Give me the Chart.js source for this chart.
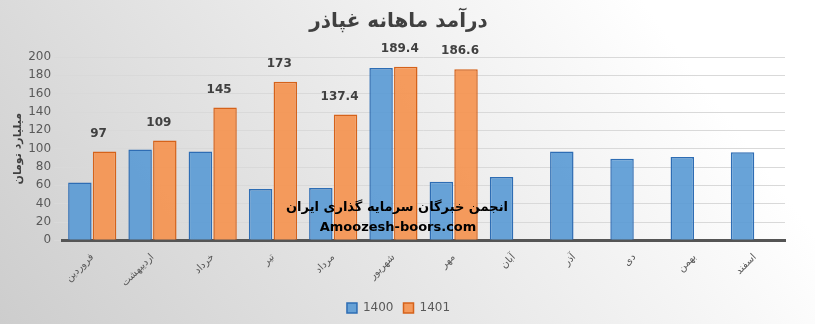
<!DOCTYPE html>
<html>
<head>
<meta charset="utf-8">
<script src="https://cdn.jsdelivr.net/npm/chart.js@4.4.0/dist/chart.umd.min.js"></script>
<style>
  body { margin: 0; }
  #wrap { width: 815px; height: 324px; position: relative; }
</style>
</head>
<body>
<div id="wrap"><canvas id="chart"></canvas></div>
<script>
// Months (Persian calendar)
const months = ['فروردین', 'اردیبهشت', 'خرداد', 'تیر', 'مرداد', 'شهریور', 'مهر', 'آبان', 'آذر', 'دی', 'بهمن', 'اسفند'];
const sales1400 = [63, 99, 97, 56, 57, 188, 64, 69, 97, 89, 91, 96];
const sales1401 = [97, 109, 145, 173, 137.4, 189.4, 186.6, null, null, null, null, null];
const yTicks = [0, 200, 20]; // min, max, step

// gray gradient background like the excel chart area
const bgPlugin = {
  id: 'bg',
  beforeDraw(chart) {
    const { ctx, width, height } = chart;
    const g = ctx.createLinearGradient(0, height, width * 0.7, -height * 0.3);
    g.addColorStop(0, '#cdcdcd');
    g.addColorStop(1, '#ffffff');
    ctx.save();
    ctx.fillStyle = g;
    ctx.fillRect(0, 0, width, height);
    ctx.restore();
  }
};

// values above the 1401 bars
const labelPlugin = {
  id: 'vals',
  afterDatasetsDraw(chart) {
    const { ctx } = chart;
    const meta = chart.getDatasetMeta(1);
    ctx.save();
    ctx.font = 'bold 12px "DejaVu Sans"';
    ctx.fillStyle = '#404040';
    ctx.textAlign = 'center';
    ctx.textBaseline = 'bottom';
    meta.data.forEach((bar, i) => {
      const v = sales1401[i];
      if (v == null) return;
      ctx.fillText(String(v), bar.x - 6, bar.y - 12);
    });
    ctx.restore();
  }
};

// watermark text
const markPlugin = {
  id: 'mark',
  afterDraw(chart) {
    const { ctx } = chart;
    ctx.save();
    ctx.fillStyle = '#000';
    ctx.textAlign = 'center';
    ctx.textBaseline = 'middle';
    ctx.direction = 'rtl';
    ctx.font = 'bold 13px "DejaVu Sans"';
    ctx.fillText('انجمن خبرگان سرمایه گذاری ایران', 397, 208);
    ctx.direction = 'ltr';
    ctx.font = 'bold 13px "DejaVu Sans"';
    ctx.fillText('Amoozesh-boors.com', 398, 228);
    ctx.restore();
  }
};

new Chart(document.getElementById('chart'), {
  type: 'bar',
  data: {
    labels: months,
    datasets: [
      {
        label: '1400',
        data: sales1400,
        backgroundColor: 'rgba(91,155,213,0.92)',
        borderColor: '#2E6DB4',
        borderWidth: 1.5
      },
      {
        label: '1401',
        data: sales1401,
        backgroundColor: 'rgba(244,150,84,0.95)',
        borderColor: '#D5621A',
        borderWidth: 1.5
      }
    ]
  },
  options: {
    responsive: true,
    maintainAspectRatio: false,
    animation: false,
    layout: { padding: { left: 12, right: 30, top: 10, bottom: 0 } },
    datasets: { bar: { categoryPercentage: 0.82, barPercentage: 0.95 } },
    plugins: {
      title: {
        display: true,
        text: 'درآمد ماهانه غپاذر',
        color: '#404040',
        font: { family: 'DejaVu Sans', size: 20, weight: 'bold' },
        padding: { top: 0, bottom: 23 }
      },
      legend: {
        position: 'bottom',
        labels: {
          boxWidth: 10, boxHeight: 10, color: '#595959',
          font: { family: 'DejaVu Sans', size: 12 }
        }
      },
      tooltip: { enabled: false }
    },
    scales: {
      x: {
        grid: { display: false },
        border: { color: '#555', width: 3 },
        ticks: {
          color: '#595959',
          minRotation: 45, maxRotation: 45,
          font: { family: 'DejaVu Sans', size: 10 }
        }
      },
      y: {
        min: yTicks[0], max: yTicks[1],
        grid: { color: '#d9d9d9' },
        border: { display: false },
        ticks: {
          stepSize: yTicks[2], color: '#595959',
          font: { family: 'DejaVu Sans', size: 12 }
        },
        title: {
          display: true, text: 'میلیارد تومان', color: '#404040',
          padding: 0,
          font: { family: 'DejaVu Sans', size: 11, weight: 'bold' }
        }
      }
    }
  },
  plugins: [bgPlugin, labelPlugin, markPlugin]
});
</script>
</body>
</html>
